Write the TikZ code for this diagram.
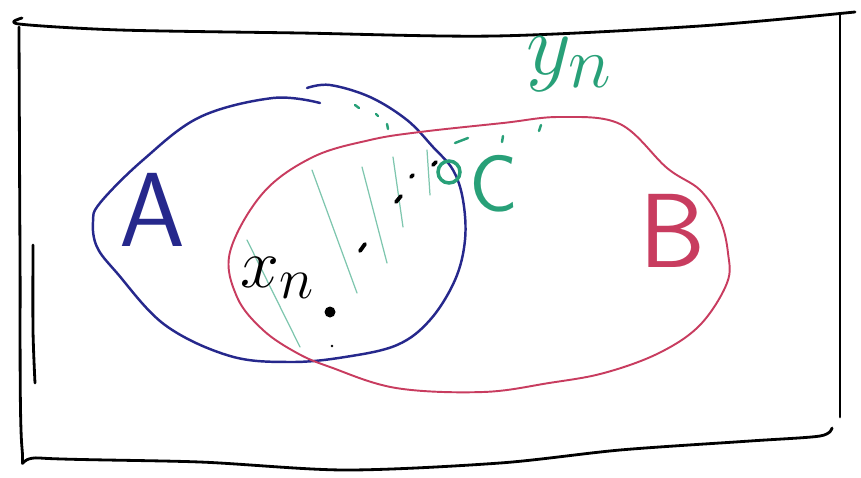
\documentclass[tikz,border=0pt]{standalone}
\usepackage{amsmath,graphicx}
\definecolor{setblue}{RGB}{38,40,140}
\definecolor{setred}{RGB}{200,60,95}
\definecolor{seqgreen}{RGB}{40,160,120}
\usetikzlibrary{calc}

\begin{document}
\begin{tikzpicture}[x=0.02cm, y=-0.02cm,
    frame/.style={black, line width=1.6pt, line cap=round, line join=round},
    setA/.style={setblue, line width=1.4pt, line cap=round},
    setB/.style={setred, line width=1.1pt, line cap=round},
    hatch/.style={seqgreen!60, line width=0.7pt, line cap=round},
    gdot/.style={seqgreen, line width=1.4pt, line cap=round},
    bdot/.style={black, line width=2.2pt, line cap=round},
    lbl/.style={inner sep=0pt, font=\sffamily\fontsize{60}{60}\selectfont}]
  \useasboundingbox (0,0) rectangle (861,477);
  % Frame (universe)
  \draw[frame] plot[smooth, tension=0.5] coordinates {(22,18) (19,24) (120,30) (300,33) (495,36) (700,26) (855,12)};
  \draw[frame] plot[smooth, tension=0.5] coordinates {(19,27) (20,250) (22,448) (40,458) (200,462) (345,470) (500,463) (620,450) (750,441) (820,436) (832,428)};
  \draw[frame] (840,14) -- (840,417);
  \draw[frame] plot[smooth, tension=0.5] coordinates {(33,245) (33,330) (35,383)};
  % Set A
  \draw[setA] plot[smooth, tension=0.6] coordinates {(320,103) (273,98) (200,117) (143,160) (100,203) (93,222) (97,247) (117,273) (165,325) (230,356) (290,362) (345,357) (397,345) (430,320) (455,280) (465,240) (463,200) (453,170) (433,147) (407,120) (370,97) (330,85) (307,88)};
  % Set B
  \draw[setB] plot[smooth cycle, tension=0.6] coordinates {(230,252) (263,193) (313,157) (370,140) (420,132) (503,123) (560,117) (620,124) (667,168) (700,190) (720,220) (728,253) (727,283) (700,325) (659,353) (604,373) (549,383) (483,392) (396,388) (330,367) (297,353) (263,330) (237,297)};
  % Hatching of the intersection
  \draw[hatch] (247,240) -- (300,347);
  \draw[hatch] (312,170) -- (357,293);
  \draw[hatch] (362,167) -- (387,263);
  \draw[hatch] (393,157) -- (403,227);
  \draw[hatch] (427,150) -- (430,195);
  % Sequence x_n towards C
  \fill (330,312) circle (5.5);
  \fill (332,346) circle (1.4);
  \draw[bdot] (360,251) -- (365,244);
  \draw[bdot] (396,202) -- (401,196);
  \draw[bdot] (411,177) -- (413,175);
  \draw[bdot] (433,165) -- (436,162);
  % Point C and sequence y_n
  \draw[seqgreen, line width=2pt] (449,172) circle (11);
  \draw[gdot] (355,105) -- (359,108);
  \draw[gdot] (376,114) -- (378,116);
  \draw[gdot] (387,124) -- (388,129);
  \draw[gdot] (455,143) -- (468,138);
  \draw[gdot] (503,136) -- (502,142);
  \draw[gdot] (541,125) -- (539,131);
  % Labels
  \node[lbl, setblue] (labA) at (152,210) {A};
  \node[lbl, setred] (labB) at (672,231) {B};
  \node[lbl, seqgreen, font=\sffamily\fontsize{46}{46}\selectfont] (labC) at (494,184) {C};
  \node[lbl, seqgreen, font=\Huge] (labY) at (570,64) {\scalebox{2}{$y_n$}};
  \node[lbl, black, font=\Huge] (labX) at (278,278) {\scalebox{1.6}{$x_n$}};
\end{tikzpicture}
\end{document}
